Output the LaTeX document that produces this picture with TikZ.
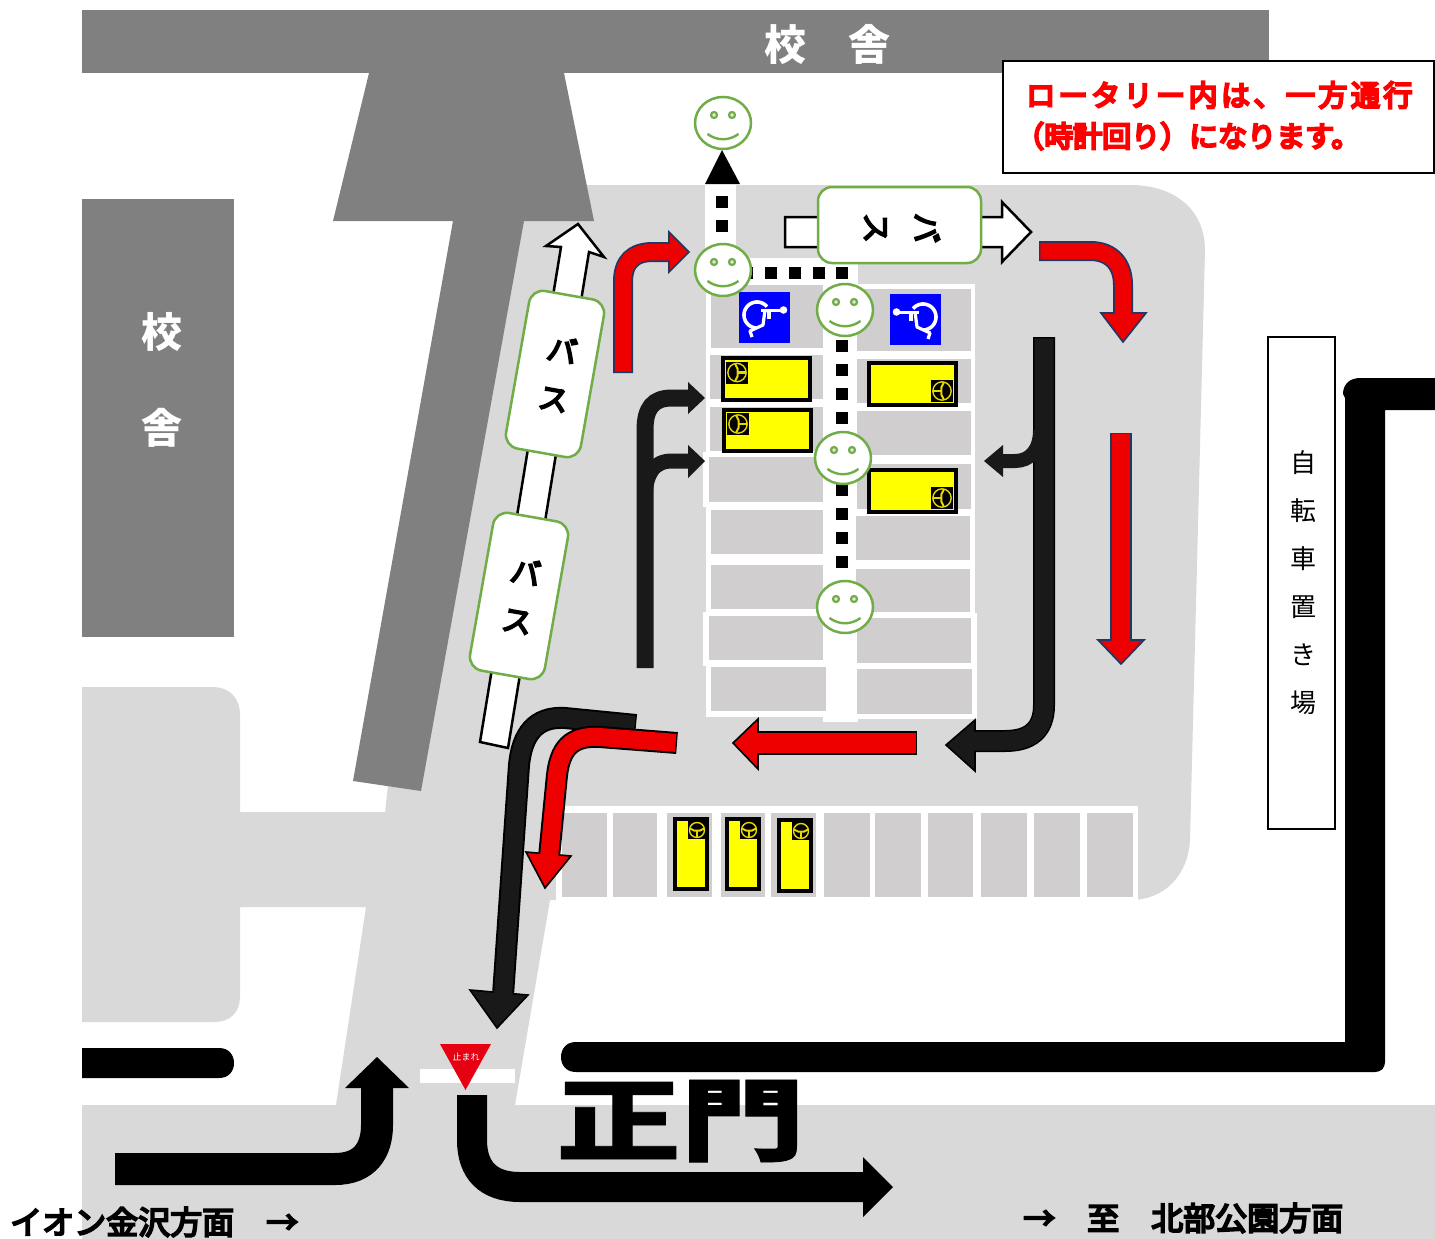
\documentclass[tikz,border=0pt]{standalone}
\usepackage{fontspec}
\usetikzlibrary{shapes.geometric}
\newfontfamily\jp{Noto Sans CJK JP}
\newfontfamily\jpm[FakeBold=6]{Noto Sans CJK JP}
\newfontfamily\jpsp[LetterSpace=12,FakeBold=8]{Noto Sans CJK JP}
\newfontfamily\jpn[FakeBold=8]{Noto Sans CJK JP}
\newfontfamily\jpgate[BoldFeatures={FakeBold=0.8}]{Noto Sans CJK JP}
\definecolor{ground}{HTML}{D9D9D9}
\definecolor{cell}{HTML}{D0CECE}
\definecolor{bldg}{HTML}{808080}
\definecolor{smile}{HTML}{70AD47}
\definecolor{navy}{HTML}{1F3864}
\definecolor{ink}{HTML}{191919}
\definecolor{signred}{HTML}{E60012}
\definecolor{arrowred}{HTML}{EE0000}
\definecolor{carY}{HTML}{FFFF00}
\definecolor{wheelY}{HTML}{E8D800}
\tikzset{
  busbox/.style={draw=smile,line width=2.5pt,fill=white,rounded corners=14pt,inner sep=0pt},
  bustext/.style={align=center,inner sep=0pt,font=\jpm\fontsize{30}{49}\selectfont},
  whitearrow/.style={draw=black,line width=2.5pt,fill=white,line join=miter},
  bldgtext/.style={text=white,font=\jp\bfseries\fontsize{42}{50}\selectfont,inner sep=0pt},
  blabel/.style={font=\jpm\fontsize{32}{38}\selectfont,inner sep=0pt,anchor=west},
}
% outlined bent arrow: outline, fill, outer w, inner w, path, head polygon
\newcommand\outlinedarrow[6]{%
  \draw[#1,line width=#3pt] #5;
  \draw[#1,fill=#2,line width=1.6pt,line join=miter] #6 -- cycle;
  \draw[#2,line width=#4pt,shorten <=1.3pt] #5;
}
\newcommand\solidarrow[4]{%
  \draw[#1,line width=#2pt] #3;
  \fill[#1] #4 -- cycle;
}
\newcommand\smileface[3]{%
  \node[draw=smile,line width=2.5pt,fill=white,ellipse,minimum width=56pt,minimum height=52pt,inner sep=0pt] (#1) at (#2,#3) {};
  \begin{scope}[shift={(#2,#3)}]
    \draw[smile,line width=2.2pt,fill=ground!60!white] (-9,-8) circle[radius=3pt];
    \draw[smile,line width=2.2pt,fill=ground!60!white] (9,-8) circle[radius=3pt];
    \draw[smile,line width=2.4pt] (-15.5,11) .. controls (-6,18) and (6,18) .. (15.5,11);
  \end{scope}
}
\newcommand\carwheel[4]{% cx cy rotation half-size
  \begin{scope}[shift={(#1,#2)}]
    \fill[black] (-#4,-#4) rectangle (#4,#4);
    \begin{scope}[rotate=#3,scale=#4/9]
      \draw[wheelY,line width=1.4pt] (0,0) circle[radius=7.5pt];
      \draw[wheelY,line width=2pt] (-7,-1.5) -- (-3,0.5) -- (3,0.5) -- (7,-1.5);
      \draw[wheelY,line width=2.2pt] (0,0.5) -- (0,7);
    \end{scope}
  \end{scope}
}
\newcommand\chairicon[3]{% cx cy xscale
  \begin{scope}[shift={(#1,#2)},xscale=#3]
    \fill[blue] (-26,-26) rectangle (25,25);
    \draw[white,line width=3.6pt] plot[smooth,domain=-40:-265,samples=30] ({-8+13*cos(\x)},{-3+13*sin(\x)});
    \draw[white,line width=3pt] (-4,-8) -- (18,-8);
    \fill[white] (18.5,-8) circle[radius=3.8pt];
    \draw[white,line width=3.2pt,line join=round] (0,-8) -- (-2,7) -- (-15,13) -- (-13,19);
    \draw[white,line width=3.2pt] (4,-8) -- (4,1);
  \end{scope}
}
\begin{document}
\begin{tikzpicture}[x=1pt,y=-1pt]
\useasboundingbox (0,0) rectangle (1435,1239);
% ground
\fill[ground] (560,185) -- (1130,185) .. controls (1175,185) and (1205,210) .. (1205,250)
  -- (1190,840) .. controls (1188,875) and (1165,900) .. (1130,900) -- (550,900) -- (515,1105) -- (1435,1105) -- (1435,1239)
  -- (82,1239) -- (82,1105) -- (336,1105) -- (366,907) -- (240,907) -- (240,997) .. controls (240,1012) and (230,1022) .. (215,1022)
  -- (82,1022) -- (82,687) -- (212,687) .. controls (230,687) and (240,698) .. (240,715) -- (240,812) -- (385,812) -- (388,785) -- (453,221) -- cycle;
% buildings
\fill[bldg] (82,10) rectangle (1269,73);
\fill[bldg] (369,73) -- (564,73) -- (594,221) -- (524,221) -- (421,791) -- (353,781) -- (453,221) -- (333,221) -- cycle;
\fill[bldg] (82,199) rectangle (234,637);
\node[bldgtext] (top) at (827,45) {校　舎};
\node[bldgtext,align=center,font=\jp\bfseries\fontsize{41}{96}\selectfont] (left) at (162,380) {校\\舎};
% roads lines
\fill[black] (82,1048) -- (219,1048) .. controls (229,1048) and (234,1055) .. (234,1063) .. controls (234,1071) and (229,1078) .. (219,1078) -- (82,1078) -- cycle;
\fill[black] (576,1042) -- (1345,1042) -- (1345,398) -- (1343,394) .. controls (1343,384) and (1350,378) .. (1360,378) -- (1435,378) -- (1435,410) -- (1385,410) -- (1385,1062) .. controls (1385,1068) and (1381,1072) .. (1375,1072) -- (576,1072) .. controls (566,1072) and (561,1065) .. (561,1057) .. controls (561,1049) and (566,1042) .. (576,1042) -- cycle;
% white walkways and parking frames
\fill[white] (705,185) rectangle (736,285);
\fill[white] (736,258) rectangle (858,285);
\fill[white] (823,258) rectangle (858,722);
\fill[white] (706,280) rectangle (826,717);
\fill[white] (703,452) rectangle (712,507);
\fill[white] (703,612) rectangle (712,666);
\fill[white] (855,284) rectangle (975,613);
\fill[white] (855,613) rectangle (977,719);
\foreach \xa/\ya/\xb/\yb in {711/285/823/348,710/355/823/399,710/407/823/451,709/457/823/502,711/510/823/554,711/565/823/609,709/616/823/660,711/667/826/711,
  857/289/971/351,857/359/971/403,857/411/971/455,857/464/971/509,856/516/970/560,856/569/970/612,857/618/971/663,857/669/972/714}{\fill[cell] (\xa,\ya) rectangle (\xb,\yb);}
\fill[white] (556,806) rectangle (1138,903);
\foreach \xa/\xb in {562/607,613/657,667/712,721/765,771/816,824/870,875/921,928/973,981/1027,1034/1080,1087/1133}{\fill[cell] (\xa,813) rectangle (\xb,897);}
% dots
\foreach \cx/\cy in {722/202,722/226,747/273,771/273,795/273,819/273,842/273,842/346,842/370,842/394,842/418,842/490,842/514,842/538,842/562}{\fill[black] (\cx-6,\cy-6) rectangle (\cx+6,\cy+6);}
\fill[black] (722,150) -- (705,184) -- (740,184) -- cycle;
% wheelchair bays
\chairicon{765}{318}{1}
\chairicon{915}{320}{-1}
% cars, side
\foreach \xa/\ya/\xb/\yb/\wx/\wy/\rot in {721/356/812/402/737/372.5/90,722/408/813/453/738/424/90,867/361/958/407/942/391/-90,867/468/958/514/942/498/-90}{
  \draw[black,line width=4pt,fill=carY] (\xa+2,\ya+2) rectangle (\xb-2,\yb-2);
  \carwheel{\wx}{\wy}{\rot}{11}
}
% cars, bottom row
\foreach \xa/\xb/\ya/\yb in {673/709/817/891,725/761/817/891,777/813/818/893}{
  \draw[black,line width=4pt,fill=carY] (\xa+2,\ya+2) rectangle (\xb-2,\yb-2);
  \carwheel{\xb-12}{\ya+13}{0}{9}
}
% bus arrows
\draw[whitearrow] (480,742) -- (561,247) -- (546,246) -- (578,224) -- (604,257) -- (589,252) -- (508,748) -- cycle;
\draw[whitearrow] (785,217) -- (1002,217) -- (1002,202) -- (1031,232) -- (1002,262) -- (1002,247) -- (785,247) -- cycle;
\node[busbox,minimum width=163pt,minimum height=76pt] (bus1) at (899.5,225) {};
\node[bustext,rotate=-90,font=\jpm\fontsize{30}{50}\selectfont] (bus1t) at (902,228) {バ\\ス};
\node[busbox,minimum width=76pt,minimum height=160pt,rotate=-10] (bus2) at (555,374) {};
\node[bustext,rotate=-10] (bus2t) at (558,374) {バ\\ス};
\node[busbox,minimum width=76pt,minimum height=160pt,rotate=-10] (bus3) at (519,596) {};
\node[bustext,rotate=-10] (bus3t) at (521.5,596) {バ\\ス};
% smiles
\smileface{s1}{723}{123}
\smileface{s2}{723}{270}
\smileface{s3}{845}{310}
\smileface{s4}{843}{458}
\smileface{s5}{845}{607}
% black flows
\solidarrow{ink}{17}{(645,668) -- (645,430) .. controls (645,408) and (653,398) .. (672,398) -- (690,398)}{(688,382) -- (705,398) -- (688,414)}
\solidarrow{ink}{15}{(645,500) .. controls (645,472) and (655,461) .. (672,461) -- (690,461)}{(688,445) -- (705,461) -- (688,478)}
\outlinedarrow{black}{ink}{22}{19}{(1044,337) -- (1044,705) .. controls (1044,730) and (1030,741) .. (1005,741) -- (972,741)}{(975,720) -- (946,745) -- (975,771)}
\solidarrow{ink}{14}{(1040,430) .. controls (1040,450) and (1030,461) .. (1015,461) -- (1002,461)}{(1003,445) -- (984,461) -- (1003,477)}
\outlinedarrow{black}{ink}{22}{18}{(636,725) -- (565,718) .. controls (535,716) and (522,735) .. (519,765) -- (503,995)}{(470,990) -- (497,1028) -- (528,995)}
% red flows
\outlinedarrow{navy}{arrowred}{20}{16.5}{(623,373) -- (623,282) .. controls (623,262) and (633,252) .. (653,252) -- (672,252)}{(669,232) -- (689,252) -- (669,272)}
\outlinedarrow{navy}{arrowred}{20}{16.5}{(1039,251) -- (1090,251) .. controls (1112,251) and (1123,265) .. (1123,285) -- (1123,316)}{(1101,313) -- (1123,342) -- (1146,313)}
\outlinedarrow{navy}{arrowred}{22}{18.5}{(1121,433) -- (1121,643)}{(1098,640) -- (1121,664) -- (1144,640)}
\outlinedarrow{black}{arrowred}{24}{20.5}{(917,743) -- (755,743)}{(758,719) -- (733,743) -- (758,769)}
\outlinedarrow{black}{arrowred}{22}{18}{(677,743) -- (600,737) .. controls (570,735) and (560,750) .. (557,775) -- (549,857)}{(526,852) -- (545,888) -- (571,856)}
% gate arrows
\solidarrow{black}{32}{(115,1169) -- (335,1169) .. controls (365,1169) and (377,1150) .. (377,1125) -- (377,1086)}{(345,1088) -- (377,1057) -- (409,1088)}
\solidarrow{black}{30}{(472,1095) -- (472,1140) .. controls (472,1170) and (488,1187) .. (520,1187) -- (865,1187)}{(863,1157) -- (893,1187) -- (863,1217)}
% stop sign
\fill[white] (420,1069) rectangle (515,1083);
\fill[signred] (440,1044) -- (491,1044) -- (465.5,1090) -- cycle;
\node[text=white,inner sep=0pt,font=\jp\fontsize{9}{10}\selectfont] (stop) at (466,1057) {止まれ};
% gate name
\node[inner sep=0pt,xscale=1.38,font=\jpgate\bfseries\fontsize{90}{94}\selectfont] (gate) at (680.5,1121) {正門};
% notice
\node[draw=black,line width=1.2pt,fill=white,minimum width=431pt,minimum height=112pt,inner sep=0pt] (note) at (1218.5,117) {};
\node[anchor=west,inner sep=0pt,text=red,font=\jpsp\fontsize{29}{34}\selectfont] (note1) at (1026,95) {ロータリー内は、一方通行};
\node[anchor=west,inner sep=0pt,text=red,font=\jpn\fontsize{29}{34}\selectfont] (note2) at (1015,136) {（時計回り）になります。};
% bicycle parking
\node[draw=black,line width=2.4pt,fill=white,minimum width=67pt,minimum height=492pt,inner sep=0pt] (bike) at (1301.5,583) {};
\node[align=center,inner sep=0pt,font=\jp\fontsize{26}{48}\selectfont] (biket) at (1303,583) {自\\転\\車\\置\\き\\場};
% bottom labels
\node[blabel] (aeon) at (10,1222) {イオン金沢方面　→};
\node[blabel] (north) at (1023,1218) {→　至　北部公園方面};
\end{tikzpicture}
\end{document}
